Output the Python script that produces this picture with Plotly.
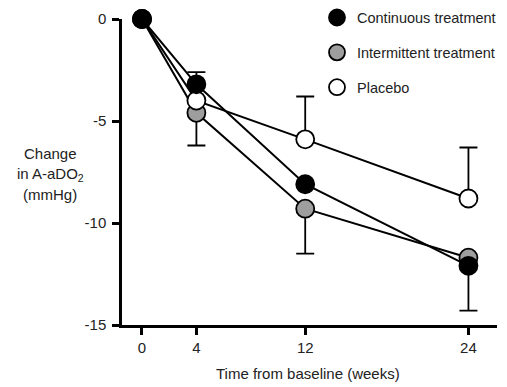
import plotly.graph_objects as go

weeks = [0, 4, 12, 24]
continuous = [0, -3.2, -8.1, -12.1]
continuous_err_up = [0, 0.6, 0, 0]
continuous_err_down = [0, 0, 0, 2.2]
intermittent = [0, -4.6, -9.3, -11.7]
intermittent_err_up = [0, 0, 0, 0]
intermittent_err_down = [0, 1.6, 2.2, 0]
placebo = [0, -4.0, -5.9, -8.8]
placebo_err_up = [0, 0, 2.1, 2.5]
placebo_err_down = [0, 0, 0, 0]

x_ticks = [0, 4, 12, 24]
y_ticks = [0, -5, -10, -15]
y_tick_text = ["0", "-5", "-10", "-15"]
y_title_lines = ["Change", "in A-aDO<sub>2</sub>", "(mmHg)"]
x_title = "Time from baseline (weeks)"

font = "Liberation Sans, Arial, sans-serif"
txt = "#222222"

fig = go.Figure()

series = [
    ("Intermittent treatment", intermittent, intermittent_err_up, intermittent_err_down, "#9e9e9e", 2),
    ("Placebo", placebo, placebo_err_up, placebo_err_down, "white", 3),
    ("Continuous treatment", continuous, continuous_err_up, continuous_err_down, "black", 1),
]

for name, vals, eu, ed, col, rank in series:
    fig.add_trace(go.Scatter(
        x=weeks, y=vals, mode="lines+markers", showlegend=False,
        line=dict(color="black", width=2),
        marker=dict(size=18, color=col, line=dict(color="black", width=1.8)),
        error_y=dict(type="data", symmetric=False, array=eu, arrayminus=ed,
                     color="black", thickness=1.8, width=9),
        cliponaxis=False,
    ))

for name, vals, eu, ed, col, rank in series:
    fig.add_trace(go.Scatter(
        x=[None], y=[None], mode="markers", name=name, legendrank=rank,
        legendgroup=name,
        marker=dict(size=18, color=col, line=dict(color="black", width=1.8)),
    ))

for line_text, py in zip(y_title_lines, [0.562, 0.493, 0.425]):
    fig.add_annotation(
        text=line_text, xref="paper", yref="paper",
        x=-0.192, y=py, showarrow=False, align="center",
        xanchor="center", yanchor="middle",
        font=dict(family=font, size=15, color=txt),
    )

fig.add_annotation(
    text=x_title, xref="paper", yref="paper", x=0.496, y=-0.157,
    showarrow=False, xanchor="center", yanchor="middle",
    font=dict(family=font, size=15, color=txt),
)

# the page body has an 8px margin, so the figure is sized/offset to compensate
fig.update_layout(
    width=499, height=379,
    margin=dict(l=114, r=10, t=11, b=62, autoexpand=False),
    paper_bgcolor="white", plot_bgcolor="white",
    font=dict(family=font, size=15, color=txt),
    legend=dict(x=0.520, y=1.057, xanchor="left", yanchor="top",
                font=dict(family=font, size=14.5, color=txt),
                tracegroupgap=13, bgcolor="rgba(0,0,0,0)"),
    xaxis=dict(range=[-1.47, 26.1], tickvals=x_ticks, showgrid=False, zeroline=False,
               automargin=False,
               showline=True, linecolor="black", linewidth=2.5,
               ticks="outside", ticklen=7, tickwidth=2.5, tickcolor="black",
               tickfont=dict(family=font, size=15, color=txt)),
    yaxis=dict(range=[-15, 0], tickvals=y_ticks, ticktext=y_tick_text,
               showgrid=False, zeroline=False, automargin=False,
               showline=True, linecolor="black", linewidth=2.5,
               ticks="outside", ticklen=7, tickwidth=2.5, tickcolor="black",
               ticklabelstandoff=3,
               tickfont=dict(family=font, size=15, color=txt)),
)

fig.write_html("out.html")
